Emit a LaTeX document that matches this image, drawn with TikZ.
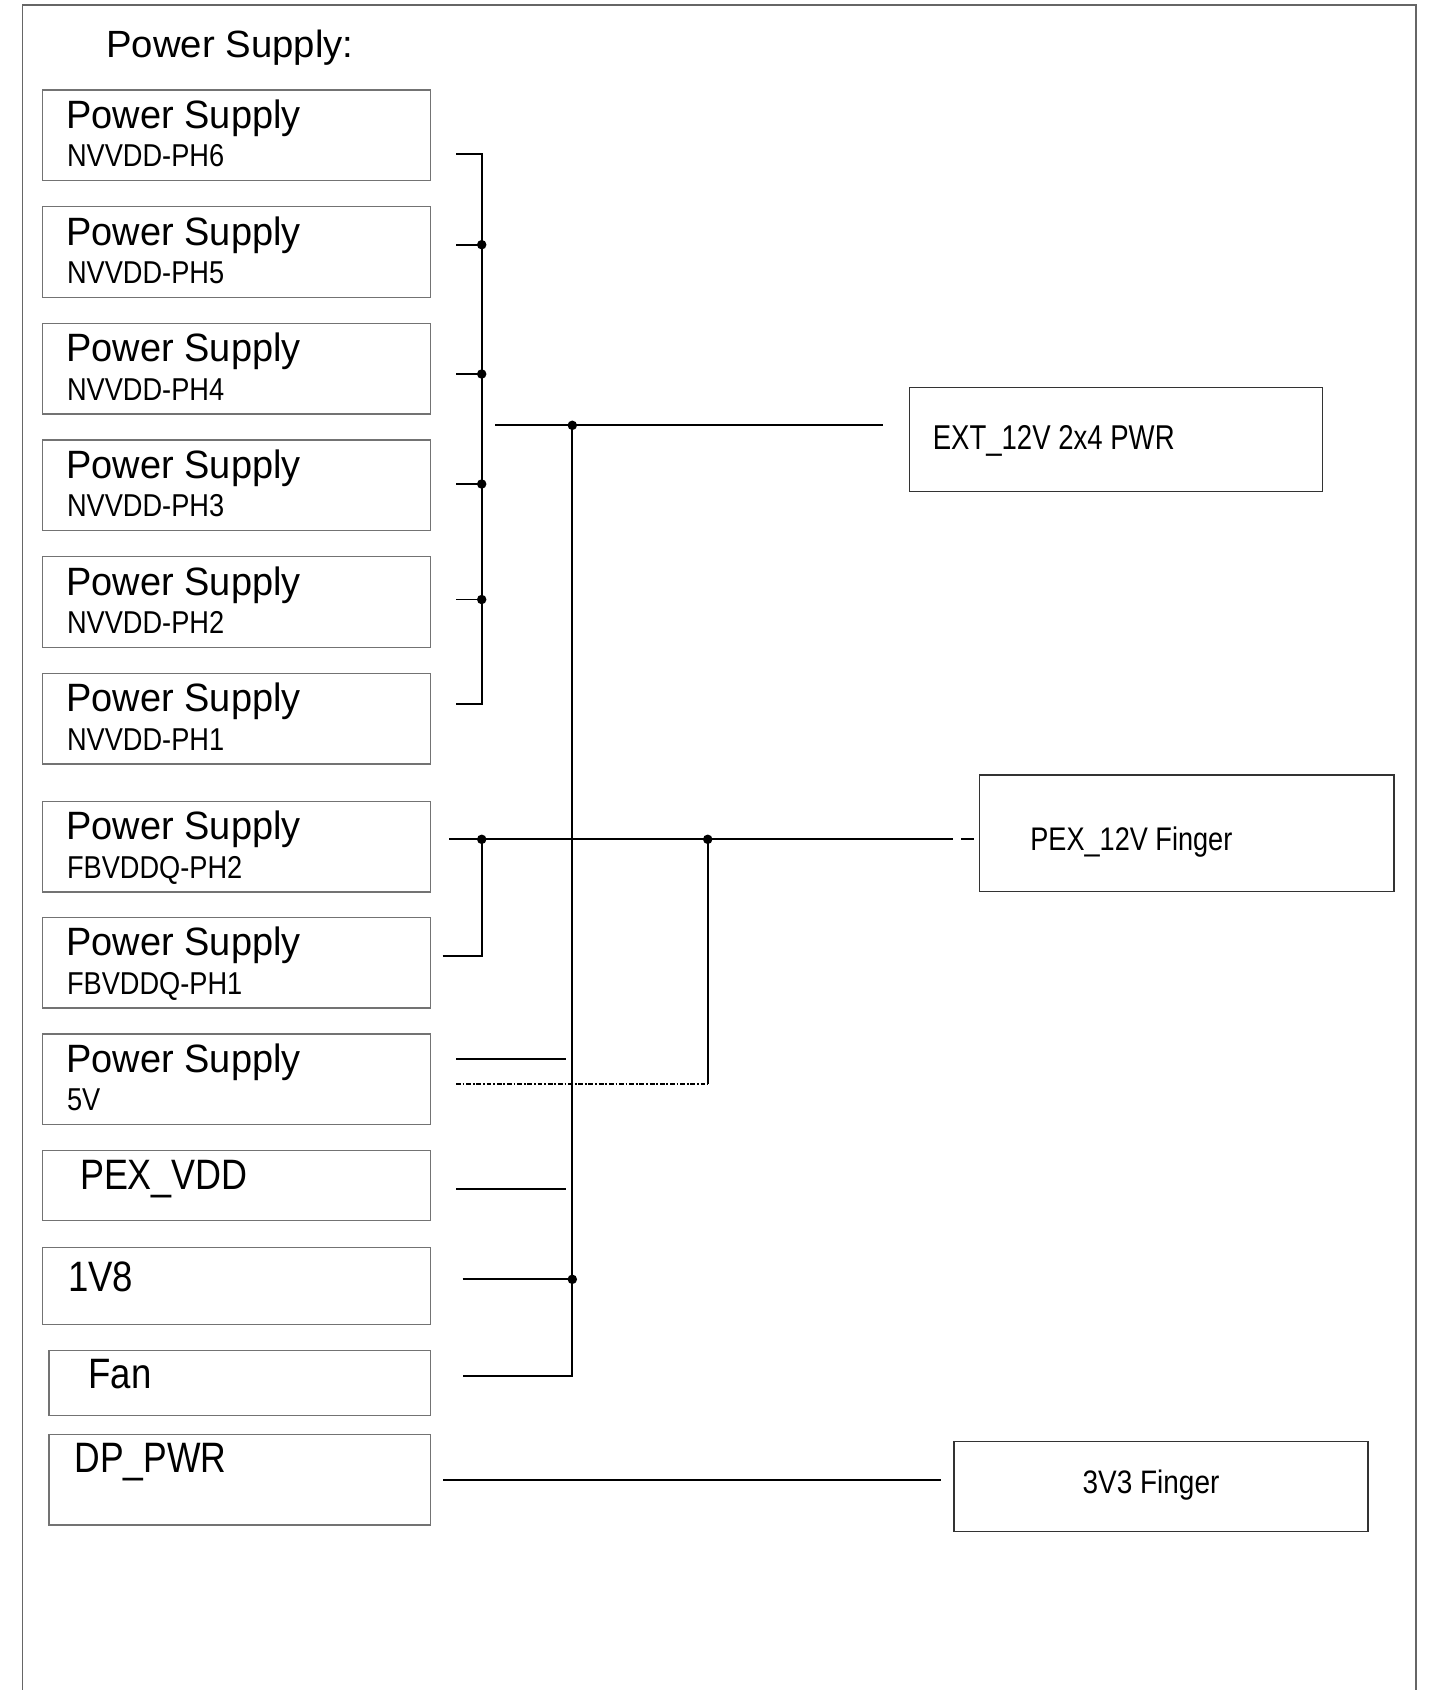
\documentclass[tikz,border=0pt]{standalone}
\usepackage{fontspec}
\setmainfont{Liberation Sans}
\usepackage{graphicx}
\usetikzlibrary{positioning}
\newcommand\narrowtxt[2]{\scalebox{#1}[1]{#2}}

\begin{document}
\begin{tikzpicture}[
  x=0.02cm, y=0.02cm,
  psbox/.style={rectangle, draw=black!55, line width=0.8pt, anchor=north west, inner sep=0pt, minimum width=7.766cm, minimum height=1.812cm},
  endbox/.style={rectangle, draw=black!80, line width=0.8pt, anchor=north west, inner sep=0pt},
  txt/.style={anchor=base west, inner sep=0pt},
  headtext/.style={txt, font=\fontsize{22.5}{26}\selectfont},
  subtext/.style={txt, font=\fontsize{18}{21}\selectfont},
  railtext/.style={txt, font=\fontsize{24.2}{28}\selectfont},
  wire/.style={line width=0.95pt},
  dotwire/.style={line width=1pt, dash pattern=on 2.8pt off 1pt on 1pt off 1pt},
  dot/.style={circle, fill, inner sep=0pt, minimum size=0.19cm}
]
\useasboundingbox (0,0) rectangle (1434,-1690);
% outer frame, open at the bottom
\draw[black!60, line width=0.8pt] (22.7,-1690) |- (1416,-5) -- (1416,-1690);

\node[txt, font=\fontsize{21.6}{25}\selectfont] (title) at (106,-57) {\narrowtxt{1.01}{Power Supply:}};

% two-line supply boxes
\foreach \nm/\lab/\ty/\ox/\oy in {nv6/NVVDD-PH6/89.3/456/154, nv5/NVVDD-PH5/206/456/244.7,
    nv4/NVVDD-PH4/322.7/456/374, nv3/NVVDD-PH3/439.3/456/484, nv2/NVVDD-PH2/556/456/599.5,
    nv1/NVVDD-PH1/672.7/456/704, fb2/FBVDDQ-PH2/800.7/449.3/839.3,
    fb1/FBVDDQ-PH1/916.7/442.7/955.7, p5v/5V/1033.3/456/1059}{
  \node[psbox] (\nm) at (41.7,-\ty) {};
  \node[headtext] (\nm-a) at ([shift={(24.5,-39)}]\nm.north west) {\narrowtxt{0.96}{Power Supply}};
  \node[subtext] (\nm-b) at ([shift={(25,-77.4)}]\nm.north west) {\narrowtxt{0.86}{\lab}};
  \coordinate (\nm-o) at (\ox,-\oy);
}

% one-line boxes
\node[psbox, minimum height=1.4cm] (pvdd) at (41.7,-1150) {};
\node[railtext] (pvdd-a) at ([shift={(38,-39.3)}]pvdd.north west) {\narrowtxt{0.845}{PEX\_VDD}};
\node[psbox, minimum height=1.546cm] (v18) at (41.7,-1246.7) {};
\node[railtext] (v18-a) at ([shift={(26,-45)}]v18.north west) {\narrowtxt{0.86}{1V8}};
\node[psbox, minimum width=7.634cm, minimum height=1.294cm] (fan) at (48.3,-1350) {};
\node[railtext] (fan-a) at ([shift={(40,-38.3)}]fan.north west) {\narrowtxt{0.86}{Fan}};
\node[psbox, minimum width=7.634cm, minimum height=1.806cm] (dp) at (48.3,-1434) {};
\node[railtext] (dp-a) at ([shift={(26,-38.7)}]dp.north west) {\narrowtxt{0.835}{DP\_PWR}};

% sources on the right
\node[endbox, minimum width=8.26cm, minimum height=2.072cm] (ext) at (908.9,-387) {};
\node[txt, font=\fontsize{19.6}{24}\selectfont] (ext-a) at ([shift={(23.5,-62)}]ext.north west) {\narrowtxt{0.8}{EXT\_12V 2x4 PWR}};
\node[endbox, minimum width=8.286cm, minimum height=2.334cm] (pex) at (979,-774.3) {};
\node[txt, font=\fontsize{18.6}{22}\selectfont] (pex-a) at ([shift={(51,-76.5)}]pex.north west) {\narrowtxt{0.83}{PEX\_12V Finger}};
\node[endbox, minimum width=8.28cm, minimum height=1.806cm] (v33) at (953.3,-1440.7) {};
\node[txt, font=\fontsize{18.5}{22}\selectfont] (v33-a) at ([shift={(129,-52.6)}]v33.north west) {\narrowtxt{0.86}{3V3 Finger}};

\coordinate (nvx) at (481.7,0);
\coordinate (busx) at (572.3,0);
\coordinate (pexx) at (707.7,0);

% NVVDD bus
\draw[wire] (nv6-o) -- (nv6-o -| nvx) -- (nv1-o -| nvx) -- (nv1-o);
\foreach \nm in {nv5,nv4,nv3,nv2}{
  \draw[wire] (\nm-o) -- (\nm-o -| nvx);
  \node[dot] (\nm-j) at (\nm-o -| nvx) {};
}

% EXT_12V rail
\coordinate (nvout) at (495,-425.3);
\node[dot] (mainj) at (nvout -| busx) {};
\draw[wire, shorten >=0.524cm] (nvout) -- (nvout -| ext.west);
\coordinate (fan-o) at (462.7,-1376);
\coordinate (v18-o) at (462.7,-1279.3);
\coordinate (pvdd-o) at (456,-1189);
\draw[wire] (mainj.center) -- (fan-o -| busx) -- (fan-o);
\draw[wire] (v18-o) -- (v18-o -| busx);
\node[dot] (v18-j) at (v18-o -| busx) {};
\draw[wire, shorten >=0.132cm] (pvdd-o) -- (pvdd-o -| busx);
\draw[wire, shorten >=0.132cm] (p5v-o) -- (p5v-o -| busx);

% PEX_12V rail
\coordinate (pexin) at (fb2-o -| pex.west);
\node[dot] (fbj) at (fb2-o -| nvx) {};
\node[dot] (pexj) at (fb2-o -| pexx) {};
\draw[wire, shorten >=0.514cm] (fb2-o) -- (pexin);
\draw[wire] ([shift={(-18,0)}]pexin) -- ([shift={(-5,0)}]pexin);
\draw[wire] (fb1-o) -- (fb1-o -| nvx) -- (fbj.center);
\coordinate (p5v-d) at (456,-1084.3);
\draw[dotwire] (p5v-d) -- (p5v-d -| pexx);
\draw[wire] (p5v-d -| pexx) -- (pexj.center);

% 3V3 rail
\coordinate (dp-o) at (443,-1480);
\draw[wire, shorten >=0.252cm] (dp-o) -- (dp-o -| v33.west);
\end{tikzpicture}
\end{document}
